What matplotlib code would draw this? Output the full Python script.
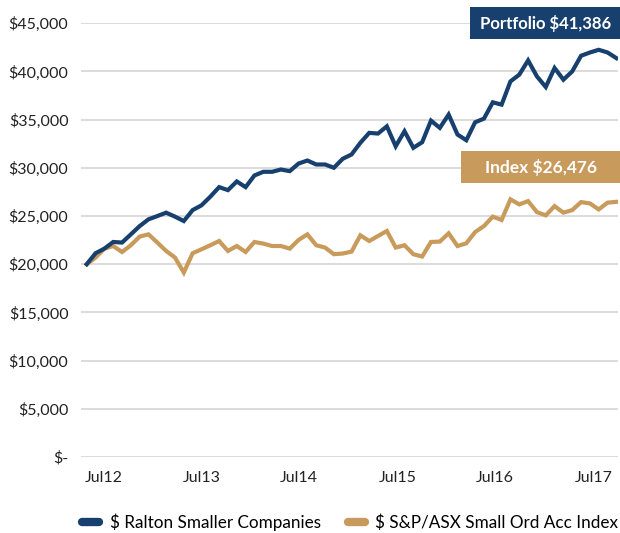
import numpy as np
import matplotlib.pyplot as plt
from matplotlib.lines import Line2D
from matplotlib.patches import Rectangle
from matplotlib.ticker import FuncFormatter

# monthly values, Jun 2012 .. Jun 2017
portfolio = [20000, 21140, 21620, 22310, 22250, 23100, 23960, 24660, 25000, 25350,
             24940, 24480, 25620, 26110, 27010, 28000, 27690, 28590, 28000, 29210,
             29590, 29590, 29830, 29660, 30450, 30760, 30350, 30350, 30010, 30940,
             31390, 32600, 33630, 33560, 34310, 32240, 33800, 32080, 32660, 34900,
             34150, 35530, 33460, 32870, 34730, 35110, 36800, 36560, 38970, 39670,
             41150, 39490, 38390, 40360, 39150, 40010, 41630, 41970, 42250, 41970,
             41386]
index = [20000, 20690, 21620, 21890, 21270, 21970, 22870, 23100, 22250, 21380,
         20690, 19140, 21140, 21550, 21970, 22410, 21380, 21890, 21270, 22310,
         22140, 21890, 21890, 21620, 22520, 23100, 21970, 21730, 21040, 21110,
         21310, 23000, 22410, 22930, 23450, 21730, 21970, 21040, 20800, 22310,
         22350, 23210, 21890, 22170, 23340, 23960, 24940, 24590, 26730, 26210,
         26550, 25410, 25070, 26030, 25350, 25620, 26450, 26310, 25690, 26390,
         26476]
tick_labels = ["Jul12", "Jul13", "Jul14", "Jul15", "Jul16", "Jul17"]
series_names = ["$ Ralton Smaller Companies", "$ S&P/ASX Small Ord Acc Index"]

navy = "#17406e"
gold = "#c89a5b"

plt.rcParams['font.family'] = ['Lato', 'DejaVu Sans']

fig = plt.figure(figsize=(6.2, 5.33), dpi=100)
ax = fig.add_axes([0.1306, 0.1426, 0.8664, 0.8137])

x = np.arange(len(portfolio))
ax.plot(x, index, color=gold, lw=3, solid_joinstyle='miter')
ax.plot(x, portfolio, color=navy, lw=3, solid_joinstyle='miter')

ax.set_xlim(-0.65, 60.2)
ax.set_ylim(0, 45000)
ax.set_yticks(np.arange(0, 45001, 5000))
ax.yaxis.set_major_formatter(FuncFormatter(lambda v, p: "$-" if v == 0 else "${:,.0f}".format(v)))
ax.set_xticks(1.88 + 11.1 * np.arange(len(tick_labels)))
ax.set_xticklabels(tick_labels)
ax.tick_params(length=0, labelsize=11.5, colors="#222222")
ax.tick_params(axis='y', pad=9)
ax.tick_params(axis='x', pad=10)
ax.grid(axis='y', color="#d9d9d9", lw=1.3)
ax.set_axisbelow(True)
for s in ax.spines.values():
    s.set_visible(False)

# end value boxes (figure pixel layout)
W, H = 620, 533
fig.patches.append(Rectangle((470 / W, 1 - 38.5 / H), 150 / W, 31.5 / H,
                             transform=fig.transFigure, fc=navy, ec='none'))
fig.text(546 / W, 1 - 23 / H, "Portfolio ${:,}".format(portfolio[-1]), color="white",
         fontsize=12, fontweight='bold', ha='center', va='center')
fig.patches.append(Rectangle((461 / W, 1 - 183 / H), 159 / W, 32 / H,
                             transform=fig.transFigure, fc=gold, ec='none'))
fig.text(541 / W, 1 - 167.5 / H, "Index ${:,}".format(index[-1]), color="white",
         fontsize=12.5, fontweight='bold', ha='center', va='center')

handles = [Line2D([], [], color=navy, lw=6, solid_capstyle='round'),
           Line2D([], [], color=gold, lw=6, solid_capstyle='round')]
fig.legend(handles, series_names, loc='center', bbox_to_anchor=(0.565, 0.021),
           ncol=2, frameon=False, fontsize=12.3, handlelength=1.0,
           handletextpad=0.6, columnspacing=1.6)

fig.savefig("out.png", dpi=100)
